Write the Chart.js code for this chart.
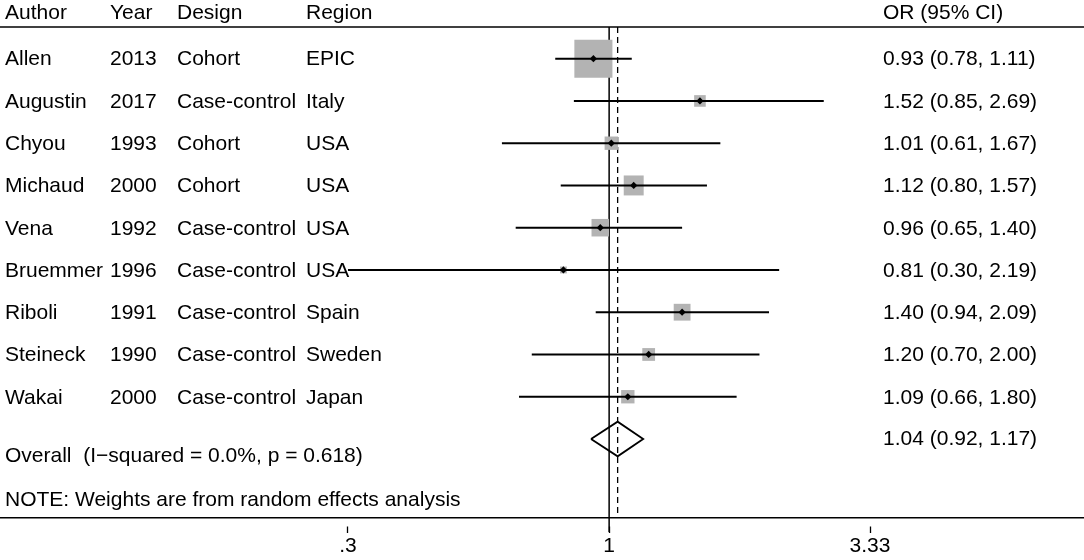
<!DOCTYPE html>
<html>
<head>
<meta charset="utf-8">
<script src="https://cdn.jsdelivr.net/npm/chart.js@4.4.1/dist/chart.umd.min.js"></script>
<style>
  html, body { margin: 0; padding: 0; background: #fff; }
  #wrap { width: 1084px; height: 560px; position: relative; }
</style>
</head>
<body>
<div id="wrap"><canvas id="forest"></canvas></div>
<script>
// study rows, top to bottom
const authors  = ['Allen', 'Augustin', 'Chyou', 'Michaud', 'Vena', 'Bruemmer', 'Riboli', 'Steineck', 'Wakai'];
const years    = ['2013', '2017', '1993', '2000', '1992', '1996', '1991', '1990', '2000'];
const designs  = ['Cohort', 'Case-control', 'Cohort', 'Cohort', 'Case-control', 'Case-control', 'Case-control', 'Case-control', 'Case-control'];
const regions  = ['EPIC', 'Italy', 'USA', 'USA', 'USA', 'USA', 'Spain', 'Sweden', 'Japan'];
const orValues = [0.93, 1.52, 1.01, 1.12, 0.96, 0.81, 1.40, 1.20, 1.09];
const ciLow    = [0.78, 0.85, 0.61, 0.80, 0.65, 0.30, 0.94, 0.70, 0.66];
const ciHigh   = [1.11, 2.69, 1.67, 1.57, 1.40, 2.19, 2.09, 2.00, 1.80];
const weights  = [46.2, 4.3, 5.7, 12.7, 9.8, 1.5, 9.0, 5.2, 5.7];   // % (random effects)

const overallOR   = 1.04;
const overallLow  = 0.92;
const overallHigh = 1.17;
const overallLabel = 'Overall  (I\u2212squared = 0.0%, p = 0.618)';
const noteLabel    = 'NOTE: Weights are from random effects analysis';

const headers    = ['Author', 'Year', 'Design', 'Region'];
const tickValues = [0.3, 1, 3.33];
const tickLabels = ['.3', '1', '3.33'];

const FONT  = '"Liberation Sans", Arial, sans-serif';
const FSIZE = 21;
const rows  = authors.map((_, i) => i + 1);   // y value of each study
const overallRow = rows.length + 1;

const fmt = (e, l, h) => `${e.toFixed(2)} (${l.toFixed(2)}, ${h.toFixed(2)})`;

// one two-point line per confidence interval
const ciSets = rows.map((r, i) => ({
  type: 'line',
  data: [{ x: ciLow[i], y: r }, { x: ciHigh[i], y: r }],
  borderColor: '#000',
  borderWidth: 2,
  pointRadius: 0,
  order: 1,
}));

const boxSet = {
  type: 'scatter',
  data: rows.map((r, i) => ({ x: orValues[i], y: r })),
  pointStyle: 'rect',
  pointRadius: ctx => Math.sqrt(weights[ctx.dataIndex]) * 5.6 / 1.4142,
  backgroundColor: '#b3b3b3',
  borderWidth: 0,
  order: 2,
};

const dotSet = {
  type: 'scatter',
  data: rows.map((r, i) => ({ x: orValues[i], y: r })),
  pointStyle: 'rectRot',
  pointRadius: 3.6,
  backgroundColor: '#000',
  borderWidth: 0,
  order: 0,
};

const dh = 0.41;   // half height of the summary diamond, in rows
const diamondSet = {
  type: 'line',
  data: [
    { x: overallLow, y: overallRow },
    { x: overallOR, y: overallRow - dh },
    { x: overallHigh, y: overallRow },
    { x: overallOR, y: overallRow + dh },
    { x: overallLow, y: overallRow },
  ],
  borderColor: '#000',
  borderWidth: 1.8,
  pointRadius: 0,
  tension: 0,
  order: 1,
};

const nullLine = {
  type: 'line',
  data: [{ x: 1, y: 0.25 }, { x: 1, y: 12.2 }],
  borderColor: '#000',
  borderWidth: 1.5,
  pointRadius: 0,
  clip: false,
  order: 3,
};

const overallLine = {
  type: 'line',
  data: [{ x: overallOR, y: 0.25 }, { x: overallOR, y: 11.87 }],
  borderColor: '#000',
  borderWidth: 1.3,
  borderDash: [6, 4],
  pointRadius: 0,
  order: 3,
};

// text columns and the top rule
const tablePlugin = {
  id: 'table',
  afterDraw(chart) {
    const { ctx, chartArea, scales: { y } } = chart;
    ctx.save();
    ctx.fillStyle = '#000';
    ctx.font = `${FSIZE}px ${FONT}`;
    ctx.textBaseline = 'middle';
    ctx.textAlign = 'left';

    const cols = [5, 110, 177, 306];
    const orX  = 883;
    const hy = y.getPixelForValue(-0.08);
    headers.forEach((h, k) => ctx.fillText(h, cols[k], hy));
    ctx.fillText('OR (95% CI)', orX, hy);

    rows.forEach((r, i) => {
      const py = y.getPixelForValue(r) + 1;
      ctx.fillText(authors[i], cols[0], py);
      ctx.fillText(years[i], cols[1], py);
      ctx.fillText(designs[i], cols[2], py);
      ctx.fillText(regions[i], cols[3], py);
      ctx.fillText(fmt(orValues[i], ciLow[i], ciHigh[i]), orX, py);
    });

    ctx.fillText(overallLabel, cols[0], y.getPixelForValue(overallRow + 0.4));
    ctx.fillText(fmt(overallOR, overallLow, overallHigh), orX, y.getPixelForValue(overallRow));
    ctx.fillText(noteLabel, cols[0], y.getPixelForValue(overallRow + 1.45));

    ctx.strokeStyle = '#000';
    ctx.lineWidth = 1.5;
    ctx.beginPath();
    ctx.moveTo(0, chartArea.top);
    ctx.lineTo(chart.width, chartArea.top);
    ctx.stroke();
    ctx.restore();
  },
};

new Chart(document.getElementById('forest'), {
  data: { datasets: [...ciSets, boxSet, dotSet, diamondSet, nullLine, overallLine] },
  options: {
    responsive: true,
    maintainAspectRatio: false,
    animation: false,
    layout: { autoPadding: false, padding: { top: 27, left: 0, right: 0, bottom: 0 } },
    plugins: { legend: { display: false }, tooltip: { enabled: false } },
    scales: {
      x: {
        type: 'logarithmic',
        min: 0.0603,
        max: 8.93,
        afterBuildTicks: s => { s.ticks = tickValues.map(v => ({ value: v })); },
        ticks: {
          autoSkip: false,
          maxRotation: 0,
          color: '#000',
          padding: 3,
          font: { family: FONT, size: FSIZE, lineHeight: 1.0 },
          callback: v => tickLabels[tickValues.indexOf(v)] ?? '',
        },
        grid: {
          drawOnChartArea: false,
          tickLength: 15,
          tickColor: '#000',
          tickWidth: 1.3,
          tickBorderDash: [0, 8, 7, 50],
        },
        border: { display: true, color: '#000', width: 1.5 },
      },
      y: {
        type: 'linear',
        reverse: true,
        min: 0.25,
        max: 11.87,
        display: false,
      },
    },
  },
  plugins: [tablePlugin],
});
</script>
</body>
</html>
